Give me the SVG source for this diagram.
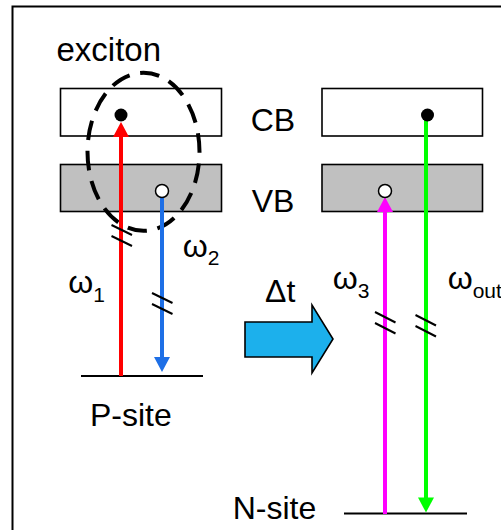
<svg xmlns="http://www.w3.org/2000/svg" width="501" height="530" viewBox="0 0 501 530">
<style>
text{font-family:"Liberation Sans",Arial,sans-serif;font-size:32px;fill:#000}
.sub{font-size:21px}
.band{stroke:#000;stroke-width:1.6}
.cb{fill:#fff}
.vb{fill:#c0c0c0}
.lvl{stroke:#000;stroke-width:2;fill:none}
.brk{stroke:#000;stroke-width:2;fill:none}
.hole{fill:#fff;stroke:#000;stroke-width:1.5}
</style>
<rect x="0" y="0" width="501" height="530" fill="#fff"/>
<rect id="frame" x="12.5" y="6.5" width="600" height="600" fill="none" stroke="#000" stroke-width="2"/>

<g id="p-site">
  <rect class="band cb" x="60.5" y="88.5" width="161" height="47.5"/>
  <rect class="band vb" x="60.5" y="164.5" width="161" height="47"/>
  <line class="lvl" x1="81" y1="376" x2="203" y2="376"/>
  <text x="90" y="426">P-site</text>
</g>

<g id="n-site">
  <rect class="band cb" x="322" y="88.5" width="160.5" height="47.5"/>
  <rect class="band vb" x="322" y="164.5" width="160.5" height="47"/>
  <line class="lvl" x1="344" y1="513.5" x2="467" y2="513.5"/>
  <text x="232.7" y="519">N-site</text>
</g>

<g id="labels">
  <text x="250.7" y="131">CB</text>
  <text x="251.7" y="212">VB</text>
  <text x="265" y="301.5">Δt</text>
  <text x="68.3" y="293">ω<tspan class="sub" dy="8.5">1</tspan></text>
  <text x="182.7" y="256.5">ω<tspan class="sub" dy="8">2</tspan></text>
  <text x="332.7" y="289.3">ω<tspan class="sub" dy="8.5">3</tspan></text>
  <text x="447.7" y="289.3">ω<tspan class="sub" dy="8.5">out</tspan></text>
</g>

<g id="exciton">
  <ellipse cx="143.5" cy="151.8" rx="56" ry="79" fill="none" stroke="#000" stroke-width="4" pathLength="434" stroke-dasharray="20 11" stroke-dashoffset="19"/>
  <text x="56.5" y="61" style="font-size:33px">exciton</text>
</g>

<g id="connectors">
  <!-- omega1 red -->
  <line x1="121" y1="376" x2="121" y2="136" stroke="#ff0000" stroke-width="4"/>
  <polygon points="121,122 129,137 113,137" fill="#ff0000"/>
  <line class="brk" x1="111.5" y1="225" x2="132" y2="235"/>
  <line class="brk" x1="111.5" y1="236" x2="132" y2="246"/>
  <!-- omega2 blue -->
  <line x1="162" y1="196" x2="162" y2="358" stroke="#1e6fe6" stroke-width="4"/>
  <polygon points="162,372 170,357 154,357" fill="#1e6fe6"/>
  <line class="brk" x1="152" y1="293" x2="172.5" y2="303"/>
  <line class="brk" x1="152" y1="304" x2="172.5" y2="314"/>
  <!-- omega3 magenta -->
  <line x1="385" y1="514" x2="385" y2="211" stroke="#ff00ff" stroke-width="4"/>
  <polygon points="385,197 393,212 377,212" fill="#ff00ff"/>
  <line class="brk" x1="375" y1="312" x2="395.5" y2="322.5"/>
  <line class="brk" x1="375" y1="323" x2="395.5" y2="333.5"/>
  <!-- omega out green -->
  <line x1="426" y1="115" x2="426" y2="498" stroke="#00ff00" stroke-width="4"/>
  <polygon points="426,512.5 434,497.5 418,497.5" fill="#00ff00"/>
  <line class="brk" x1="415.5" y1="315" x2="436" y2="325.5"/>
  <line class="brk" x1="415.5" y1="326" x2="436" y2="336.5"/>
  <!-- delta t block arrow -->
  <polygon points="245,322 312,322 312,305 333,339 312,373 312,357 245,357" fill="#1cb0ec" stroke="#000" stroke-width="1.6" stroke-linejoin="miter"/>
</g>

<g id="carriers">
  <circle cx="121" cy="115" r="6.5" fill="#000"/>
  <circle class="hole" cx="162" cy="191" r="6.5"/>
  <circle cx="427.5" cy="115" r="6.5" fill="#000"/>
  <circle class="hole" cx="385" cy="191" r="6.5"/>
</g>
</svg>
